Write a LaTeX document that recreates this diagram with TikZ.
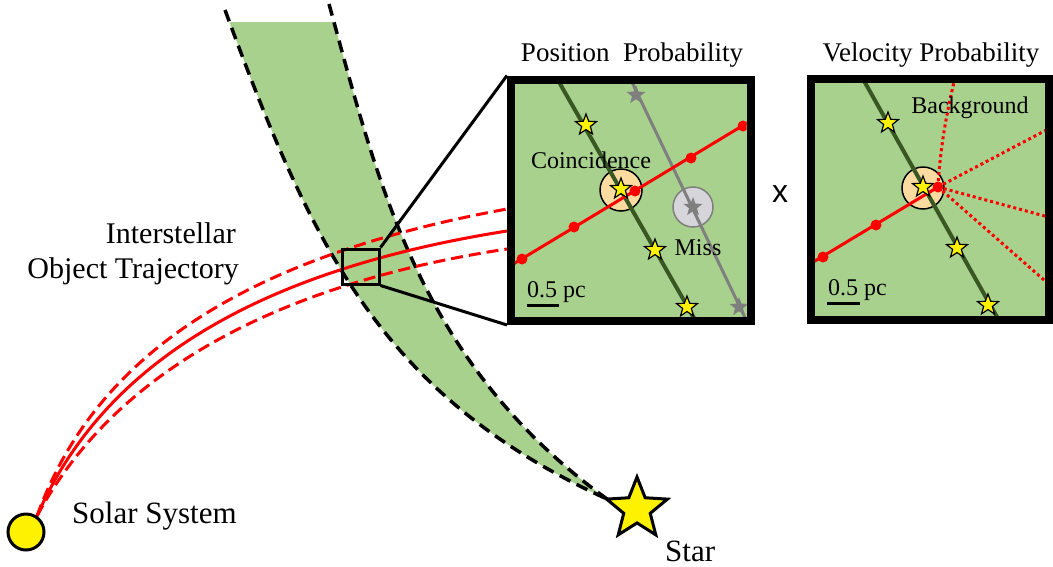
\documentclass[tikz,border=0pt]{standalone}
\usepackage{fontspec}
\setmainfont{Liberation Serif}
\newfontfamily\sansf{Liberation Sans}
\usetikzlibrary{shapes.geometric}
\definecolor{bandgreen}{RGB}{169,209,142}
\definecolor{darkgreen}{RGB}{56,87,35}
\definecolor{peach}{RGB}{251,219,160}
\definecolor{midgray}{RGB}{127,127,127}
\definecolor{lightgraytwo}{RGB}{214,214,218}
\begin{document}
\begin{tikzpicture}[x=1pt,y=-1pt,
  bandedge/.style={draw=black,line width=3.5pt,dash pattern=on 12pt off 7pt},
  traj/.style={draw=red,line width=3pt},
  trajdash/.style={traj,dash pattern=on 12pt off 6pt},
  panelbox/.style={draw=black,line width=8pt,fill=bandgreen,inner sep=0pt},
  starmark/.style={star,star points=5,star point ratio=2.4,draw=black,fill=yellow,line width=1.2pt,minimum size=22pt,inner sep=0pt},
  graystar/.style={star,star points=5,star point ratio=2.4,fill=midgray,minimum size=20pt,inner sep=0pt},
  reddot/.style={circle,fill=red,minimum size=11pt,inner sep=0pt},
  coinc/.style={circle,draw=black,fill=peach,line width=1.5pt,minimum size=42pt,inner sep=0pt},
  misscirc/.style={circle,draw=midgray,fill=lightgraytwo,line width=1.5pt,minimum size=40pt,inner sep=0pt},
  lbl/.style={inner sep=0pt,font=\rmfamily\fontsize{24}{28}\selectfont},
  biglbl/.style={inner sep=0pt,font=\rmfamily\fontsize{31}{36}\selectfont},
  titlelbl/.style={inner sep=0pt,font=\rmfamily\fontsize{27}{32}\selectfont},
  pathline/.style={draw=darkgreen,line width=4pt},
  grayline/.style={draw=midgray,line width=3pt},
  reddots/.style={draw=red,line width=3pt,dash pattern=on 3pt off 3pt},
  zoomline/.style={draw=black,line width=3pt}
]
\useasboundingbox (0,0) rectangle (1053,566);

% ---- green band ----
\coordinate (L0) at (225,10);
\coordinate (R0) at (329,4);
\coordinate (bandend) at (607,499);
\begin{scope}
  \clip (0,22) rectangle (1053,566);
  \fill[bandgreen] (L0) .. controls (311,243) and (379,395) .. (bandend)
     .. controls (417.5,362.5) and (377,178) .. (R0) -- cycle;
\end{scope}
\draw[bandedge] (L0) .. controls (311,243) and (379,395) .. (bandend);
\draw[bandedge] (R0) .. controls (377,178) and (417.5,362.5) .. (bandend);

% ---- trajectories ----
\coordinate (ts) at (37,516);
\coordinate (tup) at (507,209);
\coordinate (tmid) at (507,231);
\coordinate (tlow) at (507,249);
\draw[trajdash] (ts) .. controls (96,352) and (250,256) .. (tup);
\draw[traj] (ts) .. controls (104,362) and (260,270) .. (tmid);
\draw[trajdash] (ts) .. controls (112,376) and (270,285) .. (tlow);

% ---- zoom box ----
\node[draw=black,line width=3pt,minimum width=37pt,minimum height=35pt,inner sep=0pt] (zbox) at (360.5,266.5) {};

% ---- left panel ----
\node[panelbox,minimum width=239.5pt,minimum height=241.5pt] (pp) at (630.75,200.25) {};
\draw[zoomline] (zbox.north east) -- (pp.north west);
\draw[zoomline] (zbox.south east) -- (pp.south west);
\begin{scope}
  \clip (515,83.5) rectangle (746.5,317);
  \node[misscirc] (miss) at (693,207) {};
  \node[coinc] (coinc) at (621,190) {};
  \draw[pathline] (555,75) -- (698,325);
  \draw[grayline] (629,76) -- (750,328);
  \draw[traj] (505,269) -- (752,120);
  \node[starmark] (ps1) at (586,125) {};
  \node[starmark] (ps2) at (621,189) {};
  \node[starmark] (ps3) at (655,250) {};
  \node[starmark] (ps4) at (687,307) {};
  \node[graystar] (gs1) at (636,95) {};
  \node[graystar] (gs2) at (693,207) {};
  \node[graystar] (gs3) at (739,307) {};
  \node[reddot] (rd1) at (522,259) {};
  \node[reddot] (rd2) at (574,227) {};
  \node[reddot] (rd3) at (635,191) {};
  \node[reddot] (rd4) at (691,158) {};
  \node[reddot] (rd5) at (743,126) {};
\end{scope}
\draw[black,line width=8pt] (511,79.5) rectangle (750.5,321);
\node[lbl] (lco) at (591,160) {Coincidence};
\node[lbl] (lmiss) at (698,248) {Miss};
\node[lbl,anchor=base west] (lsc1) at (527,297) {0.5 pc};
\draw[black,line width=3pt] (527,305) -- (559,305);

% ---- times sign ----
\node[inner sep=0pt,font=\sansf\fontsize{32}{36}\selectfont] (times) at (780,194) {x};

% ---- right panel ----
\node[panelbox,minimum width=238pt,minimum height=241.5pt] (vp) at (930,199.25) {};
\begin{scope}
  \clip (815,82.5) rectangle (1045,316);
  \node[coinc] (coinc2) at (923,188) {};
  \draw[pathline] (859,72) -- (1001,324);
  \draw[traj] (805,267) -- (938,187);
  \coordinate (vo) at (938,187);
  \draw[reddots] (vo) .. controls (940,150) and (946,115) .. (955,78);
  \draw[reddots] (vo) -- (1052,127);
  \draw[reddots] (vo) -- (1052,218);
  \draw[reddots] (vo) -- (1052,287);
  \node[starmark] (vs1) at (888,123) {};
  \node[starmark] (vs2) at (923,187) {};
  \node[starmark] (vs3) at (957,248) {};
  \node[starmark] (vs4) at (988,305) {};
  \node[reddot] (vd1) at (823,257) {};
  \node[reddot] (vd2) at (876,225) {};
  \node[reddot] (vd3) at (vo) {};
\end{scope}
\draw[black,line width=8pt] (811,78.5) rectangle (1049,320);
\node[lbl] (lbg) at (970,108) {Background};
\node[lbl,anchor=base west] (lsc2) at (828,295) {0.5 pc};
\draw[black,line width=3pt] (827,303) -- (860,303);

% ---- titles ----
\node[titlelbl,anchor=base] (tpos) at (632,61) {Position\ \ Probability};
\node[titlelbl,anchor=base] (tvel) at (931,61) {Velocity Probability};

% ---- sun and star ----
\node[circle,draw=black,fill=yellow,line width=3pt,minimum size=36pt,inner sep=0pt] (sun) at (26,532) {};
\node[star,star points=5,star point ratio=2.3,draw=black,fill=yellow,line width=3pt,minimum size=64pt,inner sep=0pt] (bigstar) at (637,509) {};

% ---- labels ----
\node[biglbl,anchor=base west] (lsun) at (72,523) {Solar System};
\node[biglbl,anchor=base west] (lstar) at (665,561) {Star};
\node[inner sep=0pt,font=\rmfamily\fontsize{30}{34}\selectfont,anchor=base east] (lis1) at (236,243) {Interstellar};
\node[inner sep=0pt,font=\rmfamily\fontsize{30}{34}\selectfont,anchor=base east] (lis2) at (239,278) {Object Trajectory};
\end{tikzpicture}
\end{document}
